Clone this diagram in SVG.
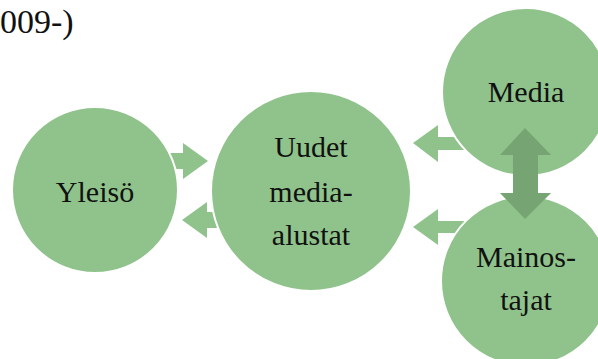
<svg xmlns="http://www.w3.org/2000/svg" width="598" height="359" viewBox="0 0 598 359">
<style>
.node{fill:#8fc38b;stroke:#ffffff;stroke-width:2}
.arr{fill:#8fc38b}
.darr{fill:#76a472}
.lbl{font-family:'Liberation Serif','Times New Roman',serif;font-size:30px;fill:#111111;text-anchor:middle}
.ttl{font-family:'Liberation Serif','Times New Roman',serif;font-size:34px;fill:#111111}
</style>
<rect width="598" height="359" fill="#ffffff"/>
<text class="ttl" x="0" y="33">009-)</text>
<g id="connectors">
  <polygon class="arr" points="160,153 183,153 183,143 208,161 183,179 183,169 160,169"/>
  <polygon class="arr" points="225,212 207,212 207,202 182,220 207,238 207,228 225,228"/>
  <polygon class="arr" points="475,137 438,137 438,125 413,143 438,162 438,150 475,150"/>
  <polygon class="arr" points="475,221 438,221 438,209 413,227 438,245 438,233 475,233"/>
</g>
<g id="yleiso">
  <circle class="node" cx="95" cy="190" r="83"/>
  <text class="lbl" x="95" y="202">Yleisö</text>
</g>
<g id="uudet">
  <circle class="node" cx="311" cy="191" r="100"/>
  <text class="lbl" x="311" y="157">Uudet</text>
  <text class="lbl" x="311" y="202">media-</text>
  <text class="lbl" x="311" y="245">alustat</text>
</g>
<g id="media">
  <circle class="node" cx="526" cy="92" r="84"/>
  <text class="lbl" x="526" y="102">Media</text>
</g>
<g id="mainostajat">
  <circle class="node" cx="526" cy="281" r="85"/>
  <text class="lbl" x="526" y="267">Mainos-</text>
  <text class="lbl" x="526" y="310">tajat</text>
</g>
<g id="connectors-top">
  <polygon class="darr" points="525,128 551,155 538,155 538,193 551,193 525,219 500,193 513,193 513,155 500,155"/>
</g>
</svg>
